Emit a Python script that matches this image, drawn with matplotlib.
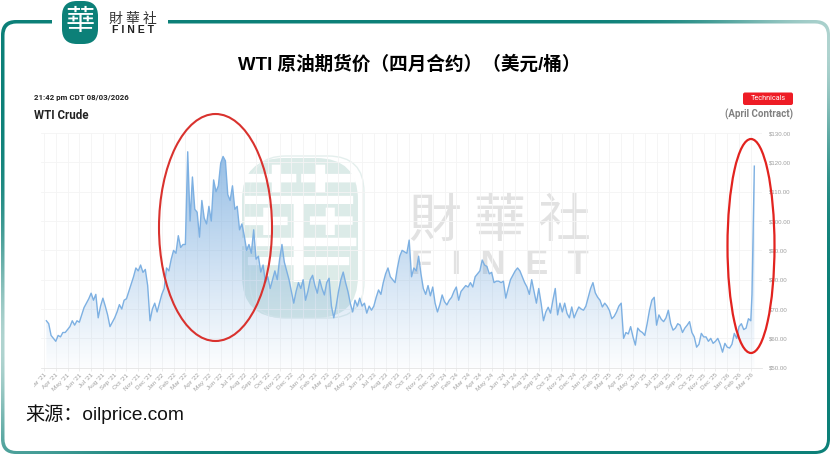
import numpy as np
import matplotlib
matplotlib.use("Agg")
import matplotlib.pyplot as plt
from matplotlib.patches import FancyBboxPatch, Ellipse, Rectangle, PathPatch
from matplotlib.path import Path
from matplotlib.colors import to_rgb
from matplotlib.transforms import Bbox, TransformedBbox

# --------------------------------------
# Data: USD per barrel, five readings per month from Mar '21
# --------------------------------------
prices_2021 = [
    66, 65, 61, 60, 59, 61, 60.5, 62, 62, 63, 64, 66, 64.5, 66, 65.5,
    68, 70.5, 72, 73.5, 75.4, 73, 75, 67, 71, 73.7, 71, 68, 64, 65.5, 67,
    69, 71.5, 70, 73, 73.5, 76, 78.5, 81, 84, 83, 85, 82.5, 83.5, 78, 66,
    70, 72, 69, 72, 75,
]
prices_2022 = [
    77, 84, 83, 87, 90, 89, 95, 91, 92, 92, 123.6, 100, 115, 104, 103,
    94.5, 107, 101, 99, 105, 100, 114, 110, 112, 119.7, 122, 120.5, 109, 107, 112,
    104, 105, 97, 99, 95, 90, 92, 89, 97, 87, 88, 82.6, 85, 79, 81,
    77, 80, 83, 80, 87, 92, 86, 83, 80, 76, 72, 76, 79, 77, 80,
]
prices_2023 = [
    73, 76, 80, 81.5, 78, 75.4, 80, 77, 74.8, 79, 80.5, 71, 67, 71, 76,
    80, 82.6, 79, 76, 72, 69, 73, 71, 73.7, 71, 72, 68.6, 71, 69.6, 71,
    74, 76.5, 75, 79, 82, 84, 81, 80, 79, 84, 88, 90, 89.5, 89, 93.5,
    81, 84, 83, 88, 82, 77, 75, 78, 74.5, 77.5, 72, 69, 71.5, 74.8, 72.5,
]
prices_2024 = [
    71.4, 73, 74, 76, 77.5, 73, 76, 77, 78, 77.5, 79, 77.5, 81, 82, 83,
    86.7, 85, 84.5, 82, 82.5, 79, 79.5, 79.5, 79, 79.5, 73.7, 77, 80, 81.5, 83,
    84, 83, 81, 79, 77.5, 75, 80, 76, 72, 77, 72, 66, 69, 70.6, 68.6,
    73, 77, 68, 72, 69, 72, 68.5, 67, 70.7, 67, 69, 70.7, 70, 69.6, 71,
]
prices_2025 = [
    74, 77, 79, 75.5, 74, 73, 70.7, 72, 71, 69.5, 66.7, 67.5, 69, 71, 72,
    60, 62, 61.5, 64, 60.5, 57.7, 63.5, 62.5, 62, 61, 65, 69.6, 73, 74, 64.5,
    68, 66.5, 65.7, 67, 69.6, 65, 62.8, 63.5, 65, 64.5, 62, 63.5, 64.5, 65.7, 62,
    60.5, 57, 58, 61.7, 60.5, 60.5, 59, 60, 58.3, 59, 60, 58, 55.3, 58.3, 57,
]
prices_2026 = [56.7, 58, 61.7, 60, 64, 65, 63, 63.5, 66.7, 66]
# the last days of the spike are closer together
spike_months = [60.1, 60.2, 60.3]
spike_prices = [75, 97, 118.7]

month_labels = [
    "Mar '21", "Apr '21", "May '21", "Jun '21", "Jul '21", "Aug '21", "Sep '21", "Oct '21", "Nov '21", "Dec '21",
    "Jan '22", "Feb '22", "Mar '22", "Apr '22", "May '22", "Jun '22", "Jul '22", "Aug '22", "Sep '22", "Oct '22",
    "Nov '22", "Dec '22", "Jan '23", "Feb '23", "Mar '23", "Apr '23", "May '23", "Jun '23", "Jul '23", "Aug '23",
    "Sep '23", "Oct '23", "Nov '23", "Dec '23", "Jan '24", "Feb '24", "Mar '24", "Apr '24", "May '24", "Jun '24",
    "Jul '24", "Aug '24", "Sep '24", "Oct '24", "Nov '24", "Dec '24", "Jan '25", "Feb '25", "Mar '25", "Apr '25",
    "May '25", "Jun '25", "Jul '25", "Aug '25", "Sep '25", "Oct '25", "Nov '25", "Dec '25", "Jan '26", "Feb '26", "Mar '26",
]
price_ticks = [50, 60, 70, 80, 90, 100, 110, 120, 130]
title = "WTI 原油期货价（四月合约）（美元/桶）"
source = "来源：oilprice.com"

prices = np.array(prices_2021 + prices_2022 + prices_2023 + prices_2024 + prices_2025 + prices_2026 + spike_prices)
months = np.r_[np.arange(1, len(prices) - 2) * 0.2, spike_months]

W, H = 831, 476
cjk = ['Liberation Sans', 'Noto Sans CJK SC']
trad = ['Noto Sans CJK TC', 'DejaVu Sans']

fig = plt.figure(figsize=(W / 100, H / 100), dpi=100)

# page layer in pixel coordinates, y pointing down
bg = fig.add_axes([0, 0, 1, 1], zorder=0)
bg.set_xlim(0, W)
bg.set_ylim(H, 0)
bg.axis('off')

# frame: teal with two pale stretches, one on each side
yy, xx = np.mgrid[0:H, 0:W]
d1 = np.hypot((xx - 0) / 120, (yy - 345) / 110)
d2 = np.hypot((xx - 831) / 120, (yy - 45) / 110)
pale = np.clip(np.exp(-d1 ** 2) + np.exp(-d2 ** 2), 0, 1)[..., None]
teal = np.array(to_rgb('#0c8078'))
light = np.array(to_rgb('#b0d4d0'))
frame_img = bg.imshow(teal * (1 - pale) + light * pale, extent=(0, W, H, 0), zorder=1, aspect='auto')
outer = FancyBboxPatch((1, 20), 829, 434, boxstyle="round,pad=0,rounding_size=15",
                       transform=bg.transData, fc='none', ec='none')
bg.add_patch(outer)
frame_img.set_clip_path(outer)
bg.add_patch(FancyBboxPatch((4.5, 23.5), 822.5, 427.5, boxstyle="round,pad=0,rounding_size=12",
                            fc='white', ec='none', zorder=2))
bg.add_patch(Rectangle((52, 15), 116, 12, fc='white', ec='none', zorder=2))

# logo
bg.add_patch(FancyBboxPatch((62, 1), 36, 43, boxstyle="round,pad=0,rounding_size=15",
                            fc='#0c8078', ec='none', zorder=3))
bg.text(80, 22.5, "華", family=trad, fontsize=21, color='white', ha='center', va='center', zorder=4)
bg.text(132.5, 18.5, "財 華 社", family=trad, fontsize=10, color='#333333', ha='center', va='center', zorder=4, weight='medium')
bg.text(132.5, 30, "F I N E T", family=['Liberation Sans'], fontsize=7.6, color='#222222', ha='center', va='center', zorder=4, weight='bold')

# faint watermark, under the chart so the area shows through
bg.add_patch(FancyBboxPatch((242, 158), 116, 160, boxstyle="round,pad=0,rounding_size=42",
                            fc='#dcebe8', ec='none', zorder=3))
bg.add_patch(FancyBboxPatch((250, 156), 114, 162, boxstyle="round,pad=0,rounding_size=36",
                            fc='none', ec='#e4efed', lw=1, zorder=3))
bg.text(298, 236, "華", family=trad, fontsize=92, color='white', ha='center', va='center', zorder=4, weight='medium')
bg.text(500, 221, "財 華 社", family=trad, fontsize=38, color='#e2e2e2', ha='center', va='center', zorder=3, weight='medium')
bg.text(500, 265, "F  I  N  E  T", family=['Liberation Sans'], fontsize=25, color='#e2e2e2', ha='center', va='center', weight='bold', zorder=3)

# titles
bg.text(409.5, 64, title, family=cjk, fontsize=13.4, color='black', ha='center', va='center', zorder=4, weight='bold')
bg.text(25, 414, source, family=cjk, fontsize=13.8, color='#111111', ha='left', va='center', zorder=4)
bg.text(34, 97.5, "21:42 pm CDT 08/03/2026", family=['Roboto'], fontsize=5.7, weight='bold', color='#222222', va='center', zorder=4)
bg.text(34, 115.5, "WTI Crude", family=['Roboto'], fontsize=8.3, weight='bold', color='#222222', va='center', zorder=4)
bg.add_patch(FancyBboxPatch((743, 92.5), 50, 12.5, boxstyle="round,pad=0,rounding_size=2",
                            fc='#ee1c25', ec='none', zorder=3))
bg.text(768, 98.8, "Technicals", family=['Roboto'], fontsize=5.2, color='white', ha='center', va='center', zorder=4)
bg.text(793, 114.5, "(April Contract)", family=['Roboto'], fontsize=7, weight='bold', color='#808080', ha='right', va='center', zorder=4)

# chart, placed so that $130 / $50 and the first / last tick land on their pixels
px_left, px_right = 41, 762
px_top, px_bottom = 133, 367.7
ax = fig.add_axes([px_left / W, 1 - px_bottom / H, (px_right - px_left) / W, (px_bottom - px_top) / H], zorder=1)
ax.patch.set_alpha(0)

ramp = np.ones((256, 1, 4))
ramp[..., :3] = to_rgb('#6fa6dc')
ramp[:, 0, 3] = np.linspace(0.78, 0.03, 256) ** 1.1
img = ax.imshow(ramp, extent=(-1, 62, 50, 126), aspect='auto', zorder=1)
poly = Path(np.column_stack([np.r_[months[0], months, months[-1]], np.r_[50, prices, 50]]))
patch = PathPatch(poly, transform=ax.transData, fc='none', ec='none')
ax.add_patch(patch)
img.set_clip_path(patch)
ax.plot(months, prices, color='#7db0e2', linewidth=1.0, zorder=3, solid_joinstyle='round')
ax.set_xlim((px_left - 44) / 11.78, (px_right - 44) / 11.78)
ax.set_ylim(50, 130)

ax.set_xticks(np.arange(len(month_labels)))
ax.set_xticklabels(month_labels, rotation=45, ha='right', rotation_mode='anchor',
                   fontsize=4.6, color='#a0a0a0', family='Liberation Sans')
# the first label is cut off at the left in the picture
first = ax.get_xticklabels()[0]
first.set_clip_box(TransformedBbox(Bbox([[34 / W, 0], [1, 1]]), fig.transFigure))
first.set_clip_on(True)
ax.set_yticks(price_ticks)
ax.set_yticklabels([f"${v:.2f}" for v in price_ticks], fontsize=4.4, color='#a0a0a0', family='Liberation Sans')
ax.yaxis.tick_right()
ax.tick_params(axis='x', length=2.5, width=0.5, color='#e4e4e4', pad=1)
ax.tick_params(axis='y', length=0, pad=5)
ax.grid(True, color='#f4f4f4', linewidth=0.6, zorder=2)
ax.set_axisbelow(True)
for name, spine in ax.spines.items():
    spine.set_visible(name == 'bottom')
    spine.set_color('#e4e4e4')
    spine.set_linewidth(0.6)

# overlay layer: the red circles
top = fig.add_axes([0, 0, 1, 1], zorder=2)
top.set_xlim(0, W)
top.set_ylim(H, 0)
top.axis('off')
top.patch.set_alpha(0)
top.add_patch(Ellipse((215.5, 227.5), 113, 227, fc='none', ec='#d9322e', lw=1.5, zorder=3))
top.add_patch(Ellipse((751, 246), 47, 214, fc='none', ec='#e2231f', lw=1.6, zorder=3))

fig.savefig("out.png", dpi=100)
